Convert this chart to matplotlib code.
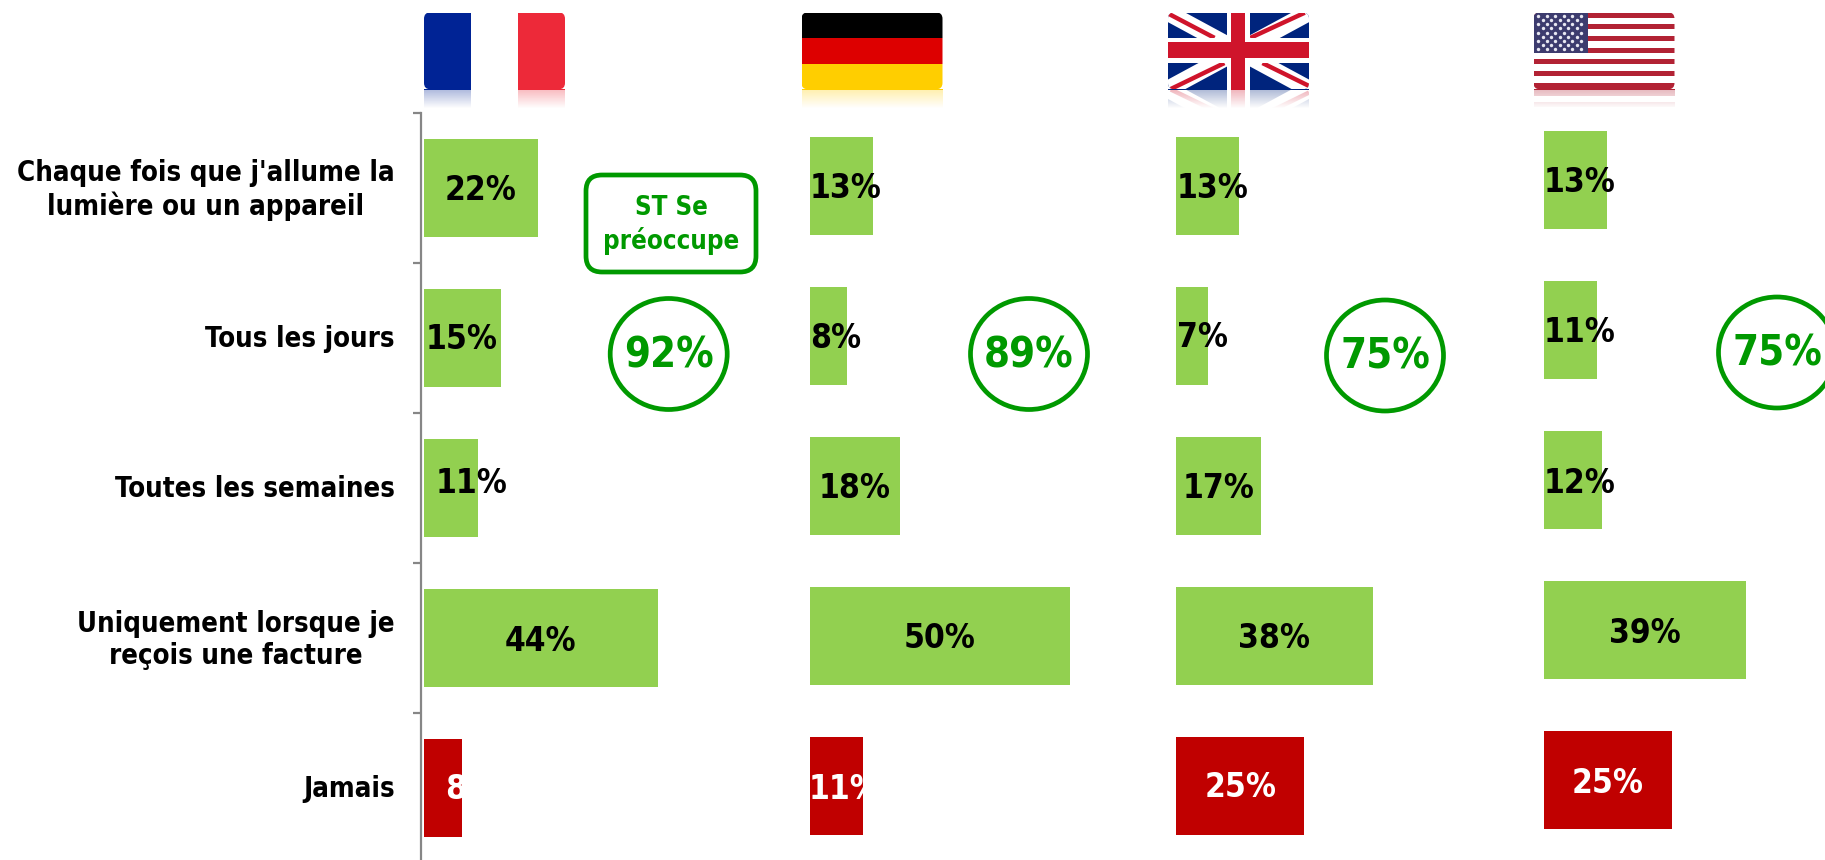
import numpy as np
import matplotlib
matplotlib.use('Agg')
import matplotlib.pyplot as plt
from matplotlib.patches import Rectangle, Ellipse, FancyBboxPatch, Polygon

plt.rcParams['font.family'] = 'DejaVu Sans'
plt.rcParams['font.stretch'] = 'condensed'
plt.rcParams['font.weight'] = 'bold'

categories = ["Chaque fois que j'allume la\nlumière ou un appareil", 'Tous les jours', 'Toutes les semaines',
              'Uniquement lorsque je\nreçois une facture', 'Jamais']
france = [22.0, 14.8, 10.5, 45.0, 7.4]
germany = [12.1, 7.1, 17.3, 50.0, 10.1]
uk = [12.2, 6.2, 16.3, 37.8, 24.6]
usa = [12.2, 10.2, 11.2, 38.8, 24.6]
france_labels = ['22%', '15%', '11%', '44%', '8%']
germany_labels = ['13%', '8%', '18%', '50%', '11%']
uk_labels = ['13%', '7%', '17%', '38%', '25%']
usa_labels = ['13%', '11%', '12%', '39%', '25%']
totals = ['92%', '89%', '75%', '75%']

W, H = 1825, 860
GREEN, RED, DARK = '#92D050', '#C00000', '#009900'
PX_PER_PCT = 5.2
ROW = 150
TXT = 1825 / 1568

fig = plt.figure(figsize=(W / 100, H / 100), dpi=100, facecolor='white')


def px_axes(left, top, width, height, **kw):
    return fig.add_axes([left / W, 1 - (top + height) / H, width / W, height / H], **kw)


def draw_bars(left, top, values):
    ax = px_axes(left - 2.6, top, 390, ROW * 5)
    ax.patch.set_alpha(0)
    cols = [GREEN] * 4 + [RED]
    ax.barh(range(5), values, height=98 / ROW, color=cols, edgecolor='none')
    ax.set_xlim(-0.5, 390 / PX_PER_PCT - 0.5)
    ax.set_ylim(4.5, -0.5)
    ax.set_xticks([])
    for s in ['top', 'right', 'bottom']:
        ax.spines[s].set_visible(False)
    return ax


ax_fr = draw_bars(423.6, 113, france)
draw_bars(810, 111, germany).axis('off')
draw_bars(1176, 111, uk).axis('off')
draw_bars(1544, 105.2, usa).axis('off')

ax_fr.spines['left'].set_color('#868686')
ax_fr.spines['left'].set_linewidth(1.6)
ax_fr.set_yticks(np.arange(5) - 0.5)
ax_fr.set_yticklabels([])
ax_fr.tick_params(axis='y', which='major', length=6, width=1.6, color='#868686')
ax_fr.set_yticks(np.arange(5) + np.array([-0.02, -0.012, -0.012, -0.02, -0.012]), labels=categories, minor=True)
ax_fr.tick_params(axis='y', which='minor', length=0, pad=19, labelsize=19.8)
for t in ax_fr.get_yticklabels(minor=True):
    t.set_multialignment('center')
    t.set_linespacing(1.2)

# overlay in pixel coordinates for labels and callouts
top = px_axes(0, 0, W, H)
top.patch.set_alpha(0)
top.set_xlim(0, W)
top.set_ylim(H, 0)
top.axis('off')

label_x = [[413, 397, 405.5, 464, 404],
           [726.5, 718, 734.5, 807.5, 726],
           [1041.5, 1033, 1047, 1095, 1066],
           [1357, 1357, 1357, 1413, 1381]]
label_y = [[164, 292, 415, 551, 678],
           [162, 291, 420, 549, 678],
           [162, 290, 420, 549, 677],
           [157, 286, 415, 544, 673]]
all_labels = [france_labels, germany_labels, uk_labels, usa_labels]
for xs, ys, labs in zip(label_x, label_y, all_labels):
    for i, (x, y, s) in enumerate(zip(xs, ys, labs)):
        top.text(x * TXT, y * TXT, s, ha='center', va='center', fontsize=24,
                 color='white' if i == 4 else 'black')

circle_x = [668.7, 1029, 1385, 1777]
circle_y = [354, 354, 355.5, 352.5]
for x, y, s in zip(circle_x, circle_y, totals):
    top.add_patch(Ellipse((x, y), 117, 111, fill=False, ec=DARK, lw=3.4, clip_on=False))
    top.text(x, y + 1, s, ha='center', va='center', fontsize=30, color=DARK)

top.add_patch(FancyBboxPatch((601, 190), 140, 67, boxstyle='round,pad=15,rounding_size=16',
                             fc='white', ec=DARK, lw=3.4, mutation_aspect=1))
top.text(671, 225, 'ST Se\npréoccupe', ha='center', va='center', fontsize=18.5, color=DARK, linespacing=1.25)


# flags
def flag_france(ax, clip):
    for i, c in enumerate(['#002395', '#FFFFFF', '#ED2939']):
        ax.add_patch(Rectangle((i / 3, 0), 1 / 3, 1, fc=c, ec='none', clip_path=clip))


def flag_germany(ax, clip):
    for i, c in enumerate(['#000000', '#DD0000', '#FFCE00']):
        ax.add_patch(Rectangle((0, i / 3), 1, 1 / 3, fc=c, ec='none', clip_path=clip))


def flag_uk(ax, clip):
    ax.add_patch(Rectangle((0, 0), 1, 1, fc='#00247D', ec='none', clip_path=clip))
    for xs, ys in [((0, 1), (0, 1)), ((0, 1), (1, 0))]:
        l, = ax.plot(xs, ys, color='white', lw=12, solid_capstyle='butt', scalex=False, scaley=False)
        l.set_clip_path(clip)
    # red diagonals are offset from the white ones
    for xs, ys in [((0, 0.33), (0.01, 0.33)), ((0.67, 1), (0.66, 0.96)),
                   ((0.584, 0.97), (0.33, 0)), ((0.02, 0.4), (1, 0.66))]:
        l, = ax.plot(xs, ys, color='#CF142B', lw=3.2, solid_capstyle='butt', scalex=False, scaley=False)
        l.set_clip_path(clip)
    ax.add_patch(Rectangle((0, 0.33), 1, 0.33, fc='white', ec='none', clip_path=clip, zorder=2.5))
    ax.add_patch(Rectangle((0.416, 0), 0.164, 1, fc='white', ec='none', clip_path=clip, zorder=2.5))
    ax.add_patch(Rectangle((0, 0.39), 1, 0.2, fc='#CF142B', ec='none', clip_path=clip, zorder=2.6))
    ax.add_patch(Rectangle((0.45, 0), 0.096, 1, fc='#CF142B', ec='none', clip_path=clip, zorder=2.6))


def flag_usa(ax, clip):
    ax.add_patch(Rectangle((0, 0), 1, 1, fc='white', ec='none', clip_path=clip))
    for i in range(7):
        h = 0.083 if i == 6 else 0.066
        ax.add_patch(Rectangle((0, i * 0.153), 1, h, fc='#B22234', ec='none', clip_path=clip))
    ax.add_patch(Rectangle((0, 0), 0.39, 0.53, fc='#3C3B6E', ec='none', clip_path=clip))
    sx, sy = [], []
    for r in range(9):
        n = 6 if r % 2 == 0 else 5
        off = 0.035 if r % 2 == 0 else 0.065
        for k in range(n):
            sx.append(off + k * 0.06)
            sy.append(0.04 + r * 0.055)
    pts = ax.scatter(sx, sy, s=6, color='#E8E8F2', linewidths=0, zorder=3)
    pts.set_clip_path(clip)


def draw_flag(left, func):
    ax = px_axes(left, 12.7, 141, 76.3)
    ax.set_xlim(0, 1)
    ax.set_ylim(1, 0)
    ax.axis('off')
    clip = FancyBboxPatch((0.04, 0.07), 0.92, 0.86, boxstyle='round,pad=0.04,rounding_size=0.045',
                          transform=ax.transData, fc='none', ec='none', mutation_aspect=141 / 76.3)
    ax.add_patch(clip)
    func(ax, clip)

    # reflection, faded out with a white gradient on top
    frac = 24 / 76.3
    ref = px_axes(left, 89.5, 141, 24)
    ref.set_xlim(0, 1)
    ref.set_ylim(1 - frac, 1)
    ref.axis('off')
    box = Polygon([(0, 0.76), (1, 0.76), (1, 1), (0, 1)], closed=True, transform=ref.transData,
                  fc='none', ec='none')
    ref.add_patch(box)
    func(ref, box)
    fade = np.clip(np.linspace(0.68, 1.0, 64), 0, 1).reshape(-1, 1)
    img = np.dstack([np.ones((64, 1, 3)), fade])
    ref.imshow(img, extent=(-0.1, 1.1, 0.76, 1), aspect='auto', zorder=5, interpolation='nearest')
    ref.set_xlim(0, 1)
    ref.set_ylim(1 - frac, 1)


draw_flag(424, flag_france)
draw_flag(801.5, flag_germany)
draw_flag(1168, flag_uk)
draw_flag(1533.5, flag_usa)

plt.savefig('out.png', dpi=100, facecolor='white')
